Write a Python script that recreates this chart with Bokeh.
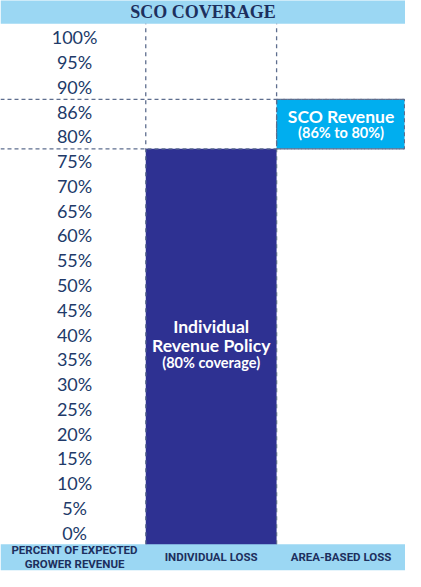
from bokeh.plotting import figure
from bokeh.models import Range1d
from bokeh.core.properties import value
from bokeh.embed import file_html
from bokeh.resources import INLINE

# ---------------- data ----------------
chart_title = "SCO COVERAGE"
levels = ["0%", "5%", "10%", "15%", "20%", "25%", "30%", "35%", "40%", "45%",
          "50%", "55%", "60%", "65%", "70%", "75%", "80%", "86%", "90%", "95%", "100%"]
column_labels = ["PERCENT OF EXPECTED\nGROWER REVENUE", "INDIVIDUAL LOSS", "AREA-BASED LOSS"]
individual_rows = ("0%", "75%")      # rows covered by the individual policy bar
individual_text = ["Individual", "Revenue Policy", "(80% coverage)"]
sco_rows = ("80%", "86%")            # rows covered by SCO band
sco_text = ["SCO Revenue", "(86% to 80%)"]

# ---------------- layout / style ----------------
W = 421
col_edges = [0, 151, 287, 421]
col_centers = [77, 219, 354]
y_bottom, y_top = -1.57, 21.49
band_color = "#9BD7F3"
navy = "#1D2F5E"
label_color = "#213A69"
bar_color = "#2E3192"
sco_color = "#00AEEF"
dash_color = "#5E6E8E"


def row(level):
    return levels.index(level)


p = figure(width=405, height=571, x_range=Range1d(0, W), y_range=Range1d(y_bottom, y_top),
           output_backend="svg", toolbar_location=None, min_border=0,
           x_axis_location=None, y_axis_location=None)
p.grid.visible = False
p.outline_line_color = None
p.background_fill_color = "white"
p.border_fill_color = "white"

# individual policy bar
ib, it = row(individual_rows[0]) - 0.5, row(individual_rows[1]) + 0.5
p.quad(left=[col_edges[1]], right=[col_edges[2]], bottom=[ib], top=[it],
       fill_color=bar_color, line_color=None)

# SCO box
sb, st = row(sco_rows[0]) - 0.5, row(sco_rows[1]) + 0.5
p.quad(left=[col_edges[2]], right=[col_edges[3] - 1], bottom=[sb], top=[st],
       fill_color=sco_color, line_color=dash_color, line_dash="4 3", line_width=1.2)

# bands
p.quad(left=[0], right=[W], bottom=[20.55], top=[y_top + 1], fill_color=band_color, line_color=None)
p.quad(left=[0], right=[W], bottom=[-1.52], top=[-0.47], fill_color=band_color, line_color=None)

# dashed guide lines
p.segment(x0=[col_edges[1], col_edges[2]], x1=[col_edges[1], col_edges[2]],
          y0=[-0.47, -0.47], y1=[20.55, 20.55],
          line_color=dash_color, line_dash="4 4", line_width=1.3)
p.segment(x0=[0, 0], x1=[W, W], y0=[it, st], y1=[it, st],
          line_color=dash_color, line_dash="4 3", line_width=1.3)

# title
p.text(x=[W / 2], y=[21.02], text=[chart_title], text_align="center", text_baseline="middle",
       text_font=value("Liberation Serif"), text_font_style="bold",
       text_font_size=value("18px"), text_color=navy)

# y labels
p.text(x=[col_centers[0]] * len(levels), y=list(range(len(levels))), text=levels,
       text_align="center", text_baseline="middle", text_font=value("Lato"),
       text_font_size=value("18px"), text_color=label_color)

# column labels
p.text(x=col_centers, y=[-0.99] * 3, text=column_labels, text_align="center",
       text_baseline="middle", text_font=value("Roboto"), text_font_style="bold",
       text_font_size=value("11.5px"), text_color=navy, text_line_height=1.05)

# bar text
bc = (ib + it) / 2
p.text(x=[col_centers[1]] * 2, y=[bc + 0.83, bc + 0.04], text=individual_text[:2],
       text_align="center", text_baseline="middle", text_font=value("Lato"),
       text_font_style="bold", text_font_size=value("17.5px"), text_color="white")
p.text(x=[col_centers[1]], y=[bc - 0.64], text=individual_text[2:],
       text_align="center", text_baseline="middle", text_font=value("Lato"),
       text_font_style="bold", text_font_size=value("14.5px"), text_color="white")

# SCO text
sc = (sb + st) / 2
p.text(x=[col_centers[2]], y=[sc + 0.32], text=sco_text[:1], text_align="center",
       text_baseline="middle", text_font=value("Lato"), text_font_style="bold",
       text_font_size=value("17.5px"), text_color="white")
p.text(x=[col_centers[2]], y=[sc - 0.36], text=sco_text[1:], text_align="center",
       text_baseline="middle", text_font=value("Lato"), text_font_style="bold",
       text_font_size=value("14.5px"), text_color="white")

open("out.html", "w").write(file_html(p, INLINE))
